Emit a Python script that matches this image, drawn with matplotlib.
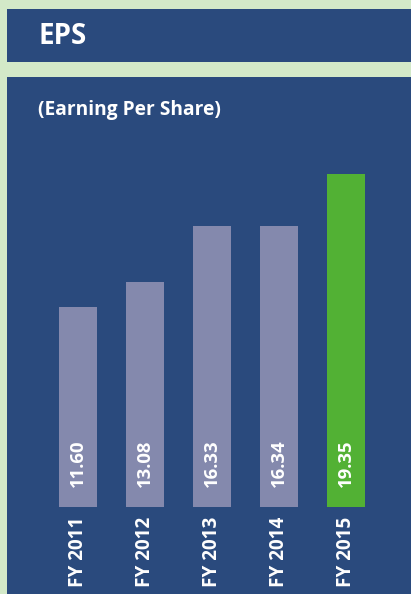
import matplotlib
matplotlib.use("Agg")
import matplotlib.pyplot as plt
from matplotlib.patches import Rectangle

categories = ["FY 2011", "FY 2012", "FY 2013", "FY 2014", "FY 2015"]
values = [11.60, 13.08, 16.33, 16.34, 19.35]
value_labels = ["11.60", "13.08", "16.33", "16.34", "19.35"]
title = "EPS"
subtitle = "(Earning Per Share)"

W, H = 411, 594
BG = "#d3e9c8"
BLUE = "#2a4a7d"
GREY = "#8489ad"
GREEN = "#52b134"
FONT = "Open Sans"

fig = plt.figure(figsize=(W / 100, H / 100), dpi=100)
fig.patch.set_facecolor(BG)

def px_rect(x0, y0, x1, y1, color):
    fig.patches.append(Rectangle((x0 / W, 1 - y1 / H), (x1 - x0) / W, (y1 - y0) / H,
                                 transform=fig.transFigure, facecolor=color,
                                 edgecolor="none", zorder=-10))

px_rect(7, 9, W, 62, BLUE)
px_rect(7, 77, W, H, BLUE)

fig.text(38 / W, 1 - 36 / H, title, color="white", fontsize=20, fontweight="bold",
         family=FONT, ha="left", va="center")
fig.text(38 / W, 1 - 110 / H, subtitle, color="white", fontsize=13.8, fontweight="bold",
         family=FONT, ha="left", va="center")

# axes: bottom at y=507px, top at 77px; bar centres at 78 + 67*i px
ax_bottom, ax_top = 507, 77
ax = fig.add_axes([7 / W, 1 - ax_bottom / H, (W - 7) / W, (ax_bottom - ax_top) / H])
ax.set_zorder(5)
ax.patch.set_visible(False)
ppu = 333 / 19.35
ax.set_ylim(0, (ax_bottom - ax_top) / ppu)
ax.set_xlim(-(78 - 7) / 67, (W - 78) / 67)
for s in ax.spines.values():
    s.set_visible(False)
ax.set_xticks([])
ax.set_yticks([])

colors = [GREY] * (len(values) - 1) + [GREEN]
xs = list(range(len(values)))
ax.bar(xs, values, width=38 / 67, color=colors, zorder=2)

for x, lab in zip(xs, value_labels):
    ax.annotate(lab, xy=(x, 0), xytext=(0, 20 * 0.72), textcoords="offset points",
                rotation=90, ha="center", va="bottom", color="white",
                fontsize=13.3, fontweight="bold", family=FONT, zorder=3)
for x, lab in zip(xs, categories):
    ax.annotate(lab, xy=(x, 0), xytext=(0, -10 * 0.72), textcoords="offset points",
                rotation=90, ha="center", va="top", color="white",
                fontsize=13.6, fontweight="bold", family=FONT, annotation_clip=False)

fig.savefig("out.png", dpi=100, facecolor=BG)
